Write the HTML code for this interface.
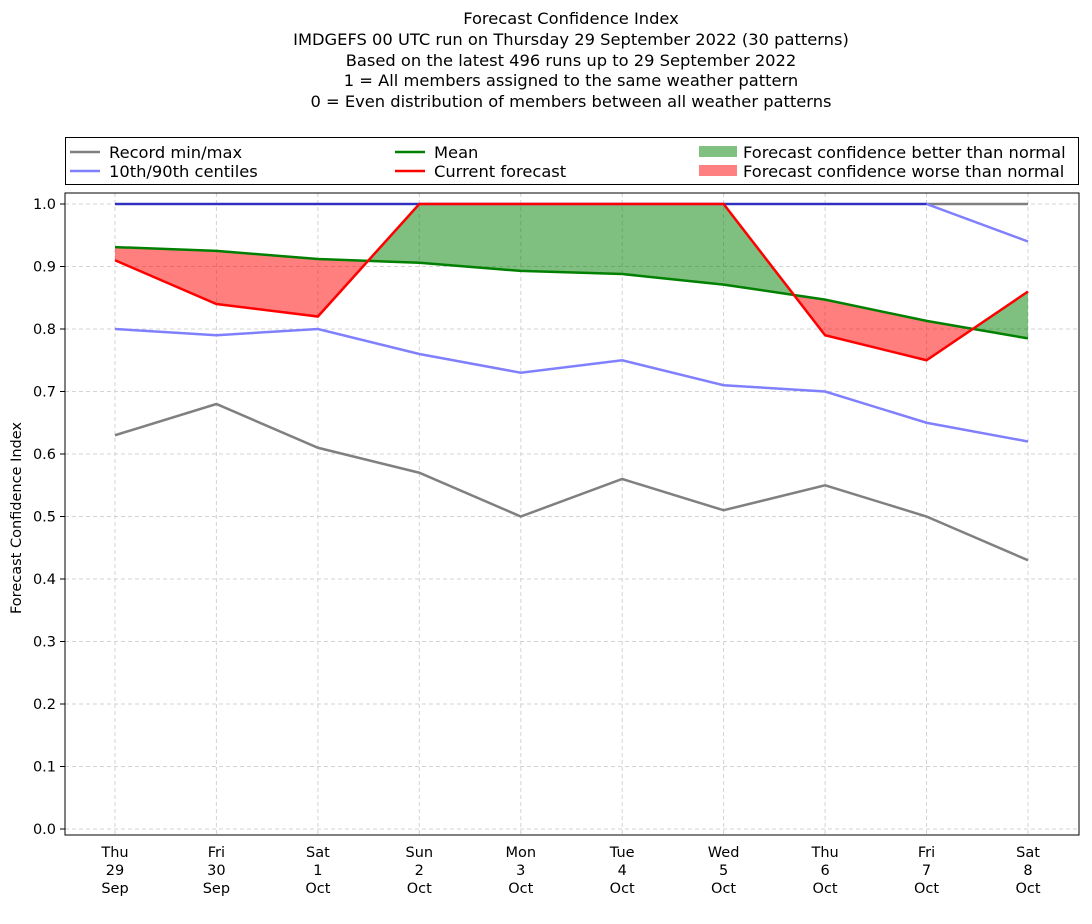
<!DOCTYPE html>
<html><head><meta charset="utf-8"><style>body{margin:0;background:#fff}svg{display:block}text{font-family:"DejaVu Sans","Liberation Sans",sans-serif}</style></head>
<body>
<svg width="1092" height="924" xmlns="http://www.w3.org/2000/svg">
<defs>
<clipPath id="above"><polygon points="65,150 115,247.1 216.4,250.9 317.9,259 419.3,262.75 520.8,270.9 622.2,274 723.6,284.6 825.1,299.6 926.5,320.9 1028,338.4 1079,338.4 1079,150"/></clipPath>
<clipPath id="below"><polygon points="65,840 65,247.1 115,247.1 216.4,250.9 317.9,259 419.3,262.75 520.8,270.9 622.2,274 723.6,284.6 825.1,299.6 926.5,320.9 1028,338.4 1079,338.4 1079,840"/></clipPath>
</defs>
<g font-size="16.3" text-anchor="middle" fill="#000">
<text x="571" y="24">Forecast Confidence Index</text>
<text x="571" y="45">IMDGEFS 00 UTC run on Thursday 29 September 2022 (30 patterns)</text>
<text x="571" y="66">Based on the latest 496 runs up to 29 September 2022</text>
<text x="571" y="86">1 = All members assigned to the same weather pattern</text>
<text x="571" y="107">0 = Even distribution of members between all weather patterns</text>
</g>
<g stroke="#d3d3d3" stroke-dasharray="4,3" stroke-width="1">
<line x1="65" x2="1079" y1="829" y2="829"/><line x1="65" x2="1079" y1="766.5" y2="766.5"/><line x1="65" x2="1079" y1="704" y2="704"/><line x1="65" x2="1079" y1="641.5" y2="641.5"/><line x1="65" x2="1079" y1="579" y2="579"/><line x1="65" x2="1079" y1="516.5" y2="516.5"/><line x1="65" x2="1079" y1="454" y2="454"/><line x1="65" x2="1079" y1="391.5" y2="391.5"/><line x1="65" x2="1079" y1="329" y2="329"/><line x1="65" x2="1079" y1="266.5" y2="266.5"/><line x1="65" x2="1079" y1="204" y2="204"/>
<line y1="193" y2="835" x1="115" x2="115"/><line y1="193" y2="835" x1="216.4" x2="216.4"/><line y1="193" y2="835" x1="317.9" x2="317.9"/><line y1="193" y2="835" x1="419.3" x2="419.3"/><line y1="193" y2="835" x1="520.8" x2="520.8"/><line y1="193" y2="835" x1="622.2" x2="622.2"/><line y1="193" y2="835" x1="723.6" x2="723.6"/><line y1="193" y2="835" x1="825.1" x2="825.1"/><line y1="193" y2="835" x1="926.5" x2="926.5"/><line y1="193" y2="835" x1="1028" x2="1028"/>
</g>
<polygon clip-path="url(#above)" fill="#008000" fill-opacity="0.5" points="115,260.25 216.4,304 317.9,316.5 419.3,204 520.8,204 622.2,204 723.6,204 825.1,335.25 926.5,360.25 1028,291.5 1028,338.4 926.5,320.9 825.1,299.6 723.6,284.6 622.2,274 520.8,270.9 419.3,262.75 317.9,259 216.4,250.9 115,247.1"/>
<polygon clip-path="url(#below)" fill="#ff0000" fill-opacity="0.5" points="115,260.25 216.4,304 317.9,316.5 419.3,204 520.8,204 622.2,204 723.6,204 825.1,335.25 926.5,360.25 1028,291.5 1028,338.4 926.5,320.9 825.1,299.6 723.6,284.6 622.2,274 520.8,270.9 419.3,262.75 317.9,259 216.4,250.9 115,247.1"/>
<g fill="none" stroke-width="2.5">
<polyline stroke="#808080" points="115,204 1028,204"/>
<polyline stroke="#808080" points="115,435.25 216.4,404 317.9,447.75 419.3,472.75 520.8,516.5 622.2,479 723.6,510.25 825.1,485.25 926.5,516.5 1028,560.25"/>
<polyline stroke="#8080ff" points="115,329 216.4,335.25 317.9,329 419.3,354 520.8,372.75 622.2,360.25 723.6,385.25 825.1,391.5 926.5,422.75 1028,441.5"/>
<polyline stroke="#8080ff" points="115,204 926.5,204 1028,241.5"/>
<polyline stroke="#3030c0" stroke-width="2" points="115,204 926.5,204"/>
<polyline stroke="#008000" points="115,247.1 216.4,250.9 317.9,259 419.3,262.75 520.8,270.9 622.2,274 723.6,284.6 825.1,299.6 926.5,320.9 1028,338.4"/>
<polyline stroke="#ff0000" points="115,260.25 216.4,304 317.9,316.5 419.3,204 520.8,204 622.2,204 723.6,204 825.1,335.25 926.5,360.25 1028,291.5"/>
</g>
<rect x="65" y="193" width="1014" height="642" fill="none" stroke="#000" stroke-width="1"/>
<g font-size="14.5" text-anchor="end">
<text x="56" y="834">0.0</text><text x="56" y="771.5">0.1</text><text x="56" y="709">0.2</text><text x="56" y="646.5">0.3</text><text x="56" y="584">0.4</text><text x="56" y="521.5">0.5</text><text x="56" y="459">0.6</text><text x="56" y="396.5">0.7</text><text x="56" y="334">0.8</text><text x="56" y="271.5">0.9</text><text x="56" y="209">1.0</text>
</g>
<g stroke="#000"><line x1="60" x2="65" y1="829" y2="829"/><line x1="60" x2="65" y1="766.5" y2="766.5"/><line x1="60" x2="65" y1="704" y2="704"/><line x1="60" x2="65" y1="641.5" y2="641.5"/><line x1="60" x2="65" y1="579" y2="579"/><line x1="60" x2="65" y1="516.5" y2="516.5"/><line x1="60" x2="65" y1="454" y2="454"/><line x1="60" x2="65" y1="391.5" y2="391.5"/><line x1="60" x2="65" y1="329" y2="329"/><line x1="60" x2="65" y1="266.5" y2="266.5"/><line x1="60" x2="65" y1="204" y2="204"/></g>
<text font-size="14.5" transform="translate(21,518) rotate(-90)" text-anchor="middle">Forecast Confidence Index</text>
<g font-size="14.5" text-anchor="middle">
<text x="115" y="857">Thu</text><text x="115" y="875">29</text><text x="115" y="893">Sep</text>
<text x="216.4" y="857">Fri</text><text x="216.4" y="875">30</text><text x="216.4" y="893">Sep</text>
<text x="317.9" y="857">Sat</text><text x="317.9" y="875">1</text><text x="317.9" y="893">Oct</text>
<text x="419.3" y="857">Sun</text><text x="419.3" y="875">2</text><text x="419.3" y="893">Oct</text>
<text x="520.8" y="857">Mon</text><text x="520.8" y="875">3</text><text x="520.8" y="893">Oct</text>
<text x="622.2" y="857">Tue</text><text x="622.2" y="875">4</text><text x="622.2" y="893">Oct</text>
<text x="723.6" y="857">Wed</text><text x="723.6" y="875">5</text><text x="723.6" y="893">Oct</text>
<text x="825.1" y="857">Thu</text><text x="825.1" y="875">6</text><text x="825.1" y="893">Oct</text>
<text x="926.5" y="857">Fri</text><text x="926.5" y="875">7</text><text x="926.5" y="893">Oct</text>
<text x="1028" y="857">Sat</text><text x="1028" y="875">8</text><text x="1028" y="893">Oct</text>
</g>
<rect x="65.5" y="137.5" width="1013" height="47" fill="#fff" stroke="#000"/>
<g stroke-width="2.5">
<line x1="70" x2="100" y1="152" y2="152" stroke="#808080"/>
<line x1="70" x2="100" y1="171" y2="171" stroke="#8080ff"/>
<line x1="395" x2="425" y1="152" y2="152" stroke="#008000"/>
<line x1="395" x2="425" y1="171" y2="171" stroke="#ff0000"/>
</g>
<rect x="699" y="146" width="38" height="11" fill="#80c080"/>
<rect x="699" y="165" width="38" height="11" fill="#ff8080"/>
<g font-size="16.3">
<text x="109" y="158">Record min/max</text>
<text x="109" y="177">10th/90th centiles</text>
<text x="434" y="158">Mean</text>
<text x="434" y="177">Current forecast</text>
<text x="743" y="158">Forecast confidence better than normal</text>
<text x="743" y="177">Forecast confidence worse than normal</text>
</g>
</svg>
</body></html>
